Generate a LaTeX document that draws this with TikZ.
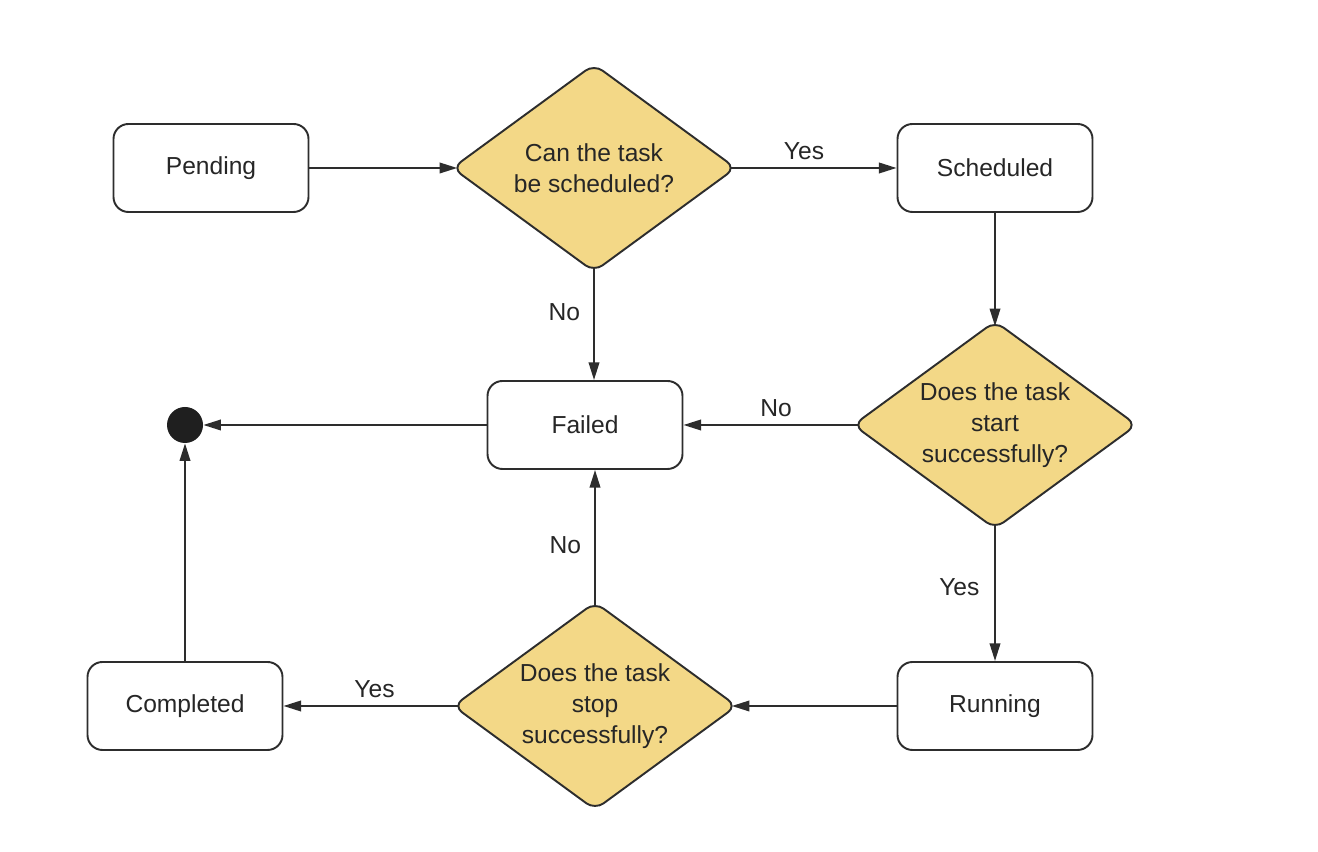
\documentclass[tikz,border=0pt]{standalone}
\usepackage{fontspec}
\setmainfont{Liberation Sans}
\usetikzlibrary{positioning,shapes.geometric,arrows.meta}
\definecolor{decisionfill}{RGB}{243,216,135}
\definecolor{linegray}{RGB}{45,45,45}
\tikzset{
    % Stile per gli stati (rettangolo arrotondato)
    statebox/.style={draw=linegray, line width=1.1pt, rectangle,
                     rounded corners=0.3cm, align=center,
                     minimum width=3.9cm, minimum height=1.76cm,
                     font=\fontsize{14}{17.6}\selectfont, text=black!85},
    % Stile per le decisioni (rombo)
    decision/.style={draw=linegray, line width=1.1pt, diamond, aspect=1.4,
                     fill=decisionfill, rounded corners=6pt, align=center,
                     minimum width=5.68cm, minimum height=4.16cm,
                     inner sep=0pt,
                     font=\fontsize{14}{17.6}\selectfont, text=black!85},
    % Stato finale
    finaldot/.style={circle, fill=black!88, minimum size=0.72cm, inner sep=0pt},
    flow/.style={draw=linegray, line width=1.1pt,
                 -{Triangle[length=10pt,width=6pt]}},
    % Compensa gli angoli arrotondati del rombo
    fromtip/.style={shorten <=-3.5pt},
    totip/.style={shorten >=-3.5pt},
    answer/.style={font=\fontsize{14}{17.6}\selectfont, text=black!85}
}
\begin{document}
\begin{tikzpicture}
    \useasboundingbox (0,0) rectangle (26.36,17.04);

    % Top row
    \node[statebox] (pending) at (4.22,13.68) {Pending};
    \node[decision] (canSched) at (11.88,13.68) {Can the task\\be scheduled?};
    \node[statebox] (scheduled) at (19.90,13.68) {Scheduled};

    % Middle row
    \node[finaldot] (endDot) at (3.70,8.54) {};
    \node[statebox] (failed) at (11.70,8.54) {Failed};
    \node[decision] (canStart) at (19.90,8.54) {Does the task\\start\\successfully?};

    % Bottom row
    \node[statebox] (completed) at (3.70,2.92) {Completed};
    \node[decision] (canStop) at (11.90,2.92) {Does the task\\stop\\successfully?};
    \node[statebox] (running) at (19.90,2.92) {Running};

    % Transitions
    \draw[flow, totip] (pending) -- (canSched);
    \draw[flow, fromtip] (canSched) -- node[answer, above=1pt, pos=0.42] {Yes} (scheduled);
    \draw[flow, fromtip] (canSched.south) -- node[answer, left=4pt, pos=0.37] {No} (canSched.south |- failed.north);
    \draw[flow, totip] (scheduled) -- (canStart);
    \draw[flow, fromtip] (canStart) -- node[answer, above=1pt, pos=0.45] {No} (failed);
    \draw[flow, fromtip] (canStart) -- node[answer, left=5pt, pos=0.44] {Yes} (running);
    \draw[flow] (failed) -- (endDot);
    \draw[flow, totip] (running) -- (canStop);
    \draw[flow, fromtip] (canStop.north) -- node[answer, left=4pt, pos=0.43] {No} (canStop.north |- failed.south);
    \draw[flow, fromtip] (canStop) -- node[answer, above=1pt, pos=0.46] {Yes} (completed);
    \draw[flow] (completed) -- (endDot);
\end{tikzpicture}
\end{document}
